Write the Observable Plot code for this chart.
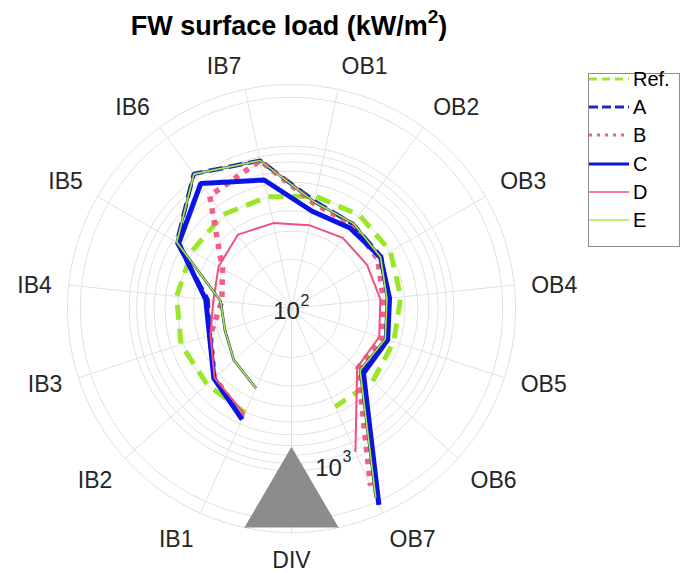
<!DOCTYPE html>
<html><head><meta charset="utf-8">
<script src="https://cdn.jsdelivr.net/npm/d3@7"></script>
<script src="https://cdn.jsdelivr.net/npm/@observablehq/plot@0.6"></script>
<style>
body{margin:0;background:#fff;font-family:"Liberation Sans",Arial,Helvetica,sans-serif;}
#fig{position:relative;width:686px;height:573px;overflow:hidden;}
#fig svg{position:absolute;left:0;top:0;}
#title{position:absolute;left:0;top:13px;width:578px;text-align:center;font-weight:bold;font-size:27px;line-height:27px;color:#000;white-space:nowrap;}
#title .sup{font-size:19px;position:relative;top:-12px;line-height:0;}
#legend{position:absolute;left:588px;top:73px;width:92px;height:174px;border:1px solid #8c8c8c;background:#fff;box-sizing:border-box;}
.lrow{position:absolute;left:0;height:28px;width:92px;}
.lrow svg{position:absolute;left:3px;top:0;}
.lrow span{position:absolute;left:44px;top:4px;font-size:20px;line-height:20px;color:#000;}
</style></head>
<body><div id="fig"><div id="title">FW surface load (kW/m<span class="sup">2</span>)</div><div id="legend"></div></div>
<script>
// ---------- data ----------
const thetaLabels = ["DIV","OB7","OB6","OB5","OB4","OB3","OB2","OB1","IB7","IB6","IB5","IB4","IB3","IB2","IB1"];
const regions = ["IB1","IB2","IB3","IB4","IB5","IB6","IB7","OB1","OB2","OB3","OB4","OB5","OB6","OB7"];
const seriesNames = ["Ref.","A","B","C","D","E"];
const loadRef = [505, 500, 520, 515, 510, 520, 505, 510, 515, 505, 475, 460, 470, 460];
const loadA   = [560, 440, 340, 330, 655, 1060, 855, 475, 440, 435, 400, 410, 385, 2080];
const loadB   = [545, 435, 335, 270, 310, 720, 855, 460, 435, 410, 370, 385, 355, 1570];
const loadC   = [560, 440, 340, 340, 635, 895, 645, 410, 410, 430, 405, 420, 395, 2110];
const loadD   = [515, 435, 335, 305, 330, 365, 345, 335, 345, 345, 355, 370, 350, 930];
const loadE   = [345, 300, 270, 275, 655, 1055, 855, 470, 445, 430, 390, 405, 370, 1890];
const rTicks = [100, 1000];
const rGrid = [200, 300, 400, 500, 600, 700, 800, 900, 1000, 2000];
const rMin = 100, rMax = 2400;
const divOffsets = [-0.5, 0, 0.5];
const divValues = [2400, 720, 2400];

// ---------- layout / styles ----------
const W = 686, H = 573, cx = 291, cy = 308, R = 224;
const deg = Math.PI / 180;
const rPix = d3.scaleLog().domain([rMin, rMax]).range([0, R]);
const angleOf = lab => (-90 + 24 * thetaLabels.indexOf(lab)) * deg;
const px = (v, a) => rPix(v) * Math.cos(a);
const py = (v, a) => rPix(v) * Math.sin(a);
const gridColor = "#e1e1e1";

const styles = {
  "Ref.": {stroke: "#9ae62a", width: 5, dash: "15,9", lw: 3, ldash: "8,5"},
  "A": {stroke: "#1a2ab8", width: 4.2, dash: "14,6", lw: 3, ldash: "9,4"},
  "B": {stroke: "#f0608a", width: 5.5, dash: "5.5,6.5", lw: 3, ldash: "3,5"},
  "C": {stroke: "#0a14e6", width: 5, dash: null, lw: 3.2, ldash: null},
  "D": {stroke: "#f0507a", width: 2, dash: null, lw: 1.4, ldash: null},
  "E": {stroke: "#a8e84a", width: 1.6, dash: null, lw: 1.4, ldash: null}
};
const seriesValues = {"Ref.": loadRef, "A": loadA, "B": loadB, "C": loadC, "D": loadD, "E": loadE};
const rowsOf = name => regions.map((reg, i) => ({region: reg, value: seriesValues[name][i]}));

const lineMark = (name, extra = {}) => {
  const s = styles[name];
  return Plot.line(rowsOf(name), {
    x: d => px(d.value, angleOf(d.region)),
    y: d => py(d.value, angleOf(d.region)),
    stroke: s.stroke, strokeWidth: s.width,
    strokeDasharray: s.dash || undefined,
    strokeLinejoin: "miter", strokeLinecap: "butt",
    curve: "linear", ...extra
  });
};

const circleRows = [...rGrid, rMax].flatMap(v => d3.range(0, 361, 2).map(t => ({v, a: t * deg})));
const divRows = divOffsets.map((o, i) => ({a: angleOf("DIV") + o * 24 * deg, v: divValues[i]}));
const rAxisAngle = -75 * deg;
const labelR = 241;

// theta tick labels, aligned like MATLAB (left/right/center, top/bottom/middle)
const hAlign = d => { const c = Math.cos(angleOf(d)); return c > 0.05 ? "start" : c < -0.05 ? "end" : "middle"; };
const vAlign = d => { const s = Math.sin(angleOf(d)); return s > 0.35 ? "bottom" : s < -0.35 ? "top" : "middle"; };
const labelMarks = [];
for (const h of ["start", "end", "middle"]) for (const v of ["top", "bottom", "middle"]) {
  labelMarks.push(Plot.text(thetaLabels, {
    filter: d => hAlign(d) === h && vAlign(d) === v,
    x: d => labelR * Math.cos(angleOf(d)),
    y: d => labelR * Math.sin(angleOf(d)),
    text: d => d, textAnchor: h, lineAnchor: v,
    dy: v === "bottom" ? 1 : 2,
    fontSize: 23, fill: "#262626"
  }));
}

const chart = Plot.plot({
  width: W, height: H, margin: 0,
  x: {domain: [-cx, W - cx], axis: null},
  y: {domain: [-(H - cy), cy], axis: null},
  style: {fontFamily: "'Liberation Sans', Arial, sans-serif", background: "transparent", overflow: "visible"},
  marks: [
    Plot.line(circleRows, {x: d => px(d.v, d.a), y: d => py(d.v, d.a), z: "v", stroke: gridColor, strokeWidth: 1}),
    Plot.link(thetaLabels, {
      x1: d => px(rMin, angleOf(d)), y1: d => py(rMin, angleOf(d)),
      x2: d => px(rMax, angleOf(d)), y2: d => py(rMax, angleOf(d)),
      stroke: gridColor, strokeWidth: 1
    }),
    Plot.line(divRows, {x: d => px(d.v, d.a), y: d => py(d.v, d.a), fill: "#8c8c8c", stroke: "#8c8c8c", strokeWidth: 1}),
    lineMark("Ref."),
    lineMark("A"),
    lineMark("B"),
    lineMark("C"),
    lineMark("D"),
    lineMark("E", {stroke: "#26306e", strokeWidth: 2.6}),
    lineMark("E"),
    ...labelMarks,
    Plot.text(rTicks, {
      x: d => px(d, rAxisAngle), y: d => py(d, rAxisAngle),
      text: () => "10", dx: -5, dy: 3, fontSize: 24, fill: "#262626"
    }),
    Plot.text(rTicks, {
      x: d => px(d, rAxisAngle), y: d => py(d, rAxisAngle),
      text: d => String(Math.round(Math.log10(d))), textAnchor: "start",
      dx: 9, dy: -8, fontSize: 16, fill: "#262626"
    })
  ]
});
const fig = document.getElementById("fig");
fig.insertBefore(chart, fig.firstChild);

// ---------- legend ----------
const legend = document.getElementById("legend");
seriesNames.forEach((name, i) => {
  const s = styles[name];
  const row = document.createElement("div");
  row.className = "lrow";
  row.style.top = (5 + i * 28.2 - 14) + "px";
  row.innerHTML = `<svg width="42" height="28"><line x1="0" y1="14" x2="40" y2="14" stroke="${s.stroke}" stroke-width="${s.lw}" ${s.ldash ? `stroke-dasharray="${s.ldash}"` : ""}/></svg><span>${name}</span>`;
  legend.appendChild(row);
});
</script></body></html>
